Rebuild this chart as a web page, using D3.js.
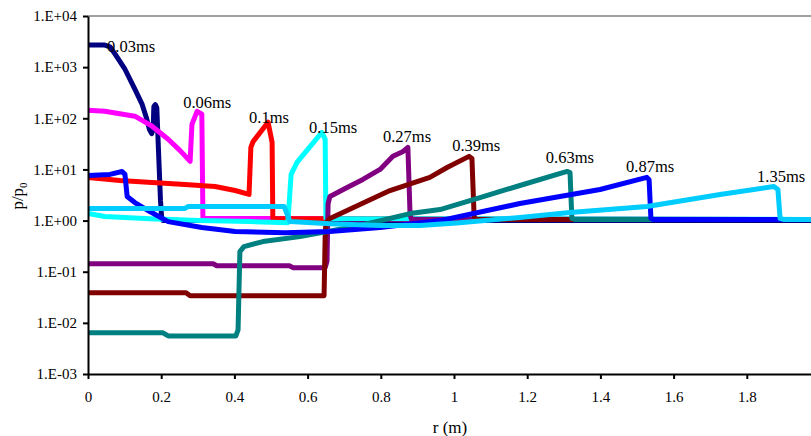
<!DOCTYPE html>
<html>
<head>
<meta charset="utf-8">
<script src="https://cdn.jsdelivr.net/npm/d3@7"></script>
<style>
  body { margin: 0; background: #fff; }
  svg { display: block; }
</style>
</head>
<body>
<svg id="chart" width="811" height="436"></svg>
<script>
// pressure ratio p/p0 against radius r (m), one profile per time
const s003 = [[0,2700],[0.046,2700],[0.06,2500],[0.074,1800],[0.101,910],[0.128,370],[0.148,187],[0.160,100],[0.168,60],[0.174,50],[0.178,60],[0.180,170],[0.184,185],[0.188,160],[0.193,20],[0.198,2.5],[0.201,1.2],[0.205,1.0],[2,1.0]]
const s006 = [[0,144],[0.046,137],[0.128,110],[0.175,70],[0.219,39],[0.251,23.6],[0.279,14.4],[0.284,76],[0.298,137],[0.311,120],[0.314,1.1],[2,1.05]]
const s01  = [[0,6.97],[0.087,6.08],[0.175,5.56],[0.265,5.08],[0.347,4.65],[0.402,3.87],[0.44,3.24],[0.445,27],[0.451,35],[0.492,84],[0.503,34],[0.505,1.1],[2,1.05]]
const s015 = [[0,1.37],[0.046,1.2],[0.169,1.09],[0.306,1.0],[0.443,0.955],[0.546,0.91],[0.555,8.0],[0.571,13.7],[0.639,53],[0.648,38.7],[0.650,1.1],[2,1.05]]
const s027 = [[0,0.1435],[0.342,0.1435],[0.352,0.131],[0.55,0.131],[0.56,0.12],[0.648,0.12],[0.653,0.16],[0.656,2.15],[0.661,2.96],[0.708,4.44],[0.751,6.37],[0.798,10],[0.833,18],[0.861,22.5],[0.874,27],[0.880,1.3],[0.884,1.05],[2,1.05]]
const s039 = [[0,0.0387],[0.268,0.0387],[0.279,0.0338],[0.645,0.0338],[0.648,0.5],[0.650,0.91],[0.661,1.1],[0.743,2.06],[0.825,3.87],[0.934,7.0],[0.981,10.9],[1.041,18],[1.049,16.4],[1.055,1.2],[1.06,1.05],[2,1.05]]
const s063 = [[0,0.00637],[0.205,0.00637],[0.219,0.00556],[0.404,0.00556],[0.41,0.0073],[0.415,0.247],[0.426,0.31],[0.478,0.388],[0.579,0.485],[0.743,0.8],[0.88,1.37],[0.962,1.64],[1.071,2.82],[1.18,4.85],[1.309,9.15],[1.317,8.7],[1.322,1.1],[1.33,1.05],[2,1.05]]
const s087 = [[0,7.6],[0.06,8.0],[0.093,9.1],[0.101,8.0],[0.107,2.96],[0.128,2.25],[0.169,1.5],[0.219,0.955],[0.311,0.73],[0.402,0.61],[0.538,0.58],[0.661,0.61],[0.798,0.73],[0.962,1.0],[1.18,2.15],[1.399,4.05],[1.527,7.0],[1.533,6.3],[1.538,1.1],[1.545,1.05],[2,1.05]]
const s135 = [[0,1.72],[0.265,1.72],[0.273,1.88],[0.536,1.88],[0.552,0.955],[0.661,0.87],[0.798,0.8],[0.907,0.8],[1.016,0.91],[1.18,1.15],[1.317,1.44],[1.527,1.88],[1.727,3.24],[1.874,4.64],[1.885,4.05],[1.891,1.1],[1.90,1.05],[2,1.05]]

const times = ['0.03ms','0.06ms','0.1ms','0.15ms','0.27ms','0.39ms','0.63ms','0.87ms','1.35ms']
// where each time label sits, in data units [r, p]
const labelAt = [[0.052,1980],[0.26,159],[0.44,81],[0.604,51.5],[0.806,34.4],[0.995,22.9],[1.251,13.4],[1.47,8.9],[1.828,5.7]]
const xTicks = [0,0.2,0.4,0.6,0.8,1,1.2,1.4,1.6,1.8]
const yTicks = [1e-3,1e-2,1e-1,1,10,100,1000,10000]

const series = [s003, s006, s01, s015, s027, s039, s063, s087, s135]
const colors = ['#000080','#FF00FF','#FF0000','#00FFFF','#800080','#800000','#008080','#0000FF','#00CCFF']

const FONT = 'Liberation Serif'
const svg = d3.select('#chart')
const x = d3.scaleLinear().domain([0, 2]).range([88, 820])
const y = d3.scaleLog().domain([1e-3, 1e4]).range([374, 16])

// excel style exponent labels, 1.E+04 etc
const fmtExp = v => {
  const e = Math.round(Math.log10(v))
  return '1.E' + (e < 0 ? '-' : '+') + String(Math.abs(e)).padStart(2, '0')
}

// top frame line
svg.append('line')
  .attr('x1', x(0)).attr('x2', 811)
  .attr('y1', y(1e4)).attr('y2', y(1e4))
  .attr('stroke', '#808080').attr('stroke-width', 1.5)

const lineGen = d3.line().x(d => x(d[0])).y(d => y(d[1]))

svg.append('clipPath').attr('id', 'plotClip')
  .append('rect').attr('x', x(0)).attr('y', y(1e4)).attr('width', 811 - x(0)).attr('height', y(1e-3) - y(1e4))

const plot = svg.append('g').attr('clip-path', 'url(#plotClip)')
series.forEach((s, i) => {
  plot.append('path')
    .datum(s)
    .attr('d', lineGen)
    .attr('fill', 'none')
    .attr('stroke', colors[i])
    .attr('stroke-width', 5)
    .attr('stroke-linejoin', 'round')
    .attr('stroke-linecap', 'round')
})

// axes
const yAxis = svg.append('g')
  .attr('transform', `translate(${x(0)},0)`)
  .call(d3.axisLeft(y).tickValues(yTicks).tickFormat(fmtExp).tickSize(5).tickSizeOuter(0).tickPadding(6))
const xAxis = svg.append('g')
  .attr('transform', `translate(0,${y(1e-3)})`)
  .call(d3.axisBottom(x).tickValues(xTicks).tickFormat(d3.format('')).tickSize(5).tickSizeOuter(0).tickPadding(12))

for (const ax of [xAxis, yAxis]) {
  ax.attr('font-family', null)
  ax.select('.domain').attr('stroke', '#000').attr('stroke-width', 2)
  ax.selectAll('.tick line').attr('stroke', '#000').attr('stroke-width', 2)
  ax.selectAll('.tick text').attr('fill', '#000')
    .style('font-family', FONT).style('font-size', '15px')
}

// time labels
svg.append('g').selectAll('text')
  .data(times)
  .join('text')
  .attr('x', (d, i) => x(labelAt[i][0]))
  .attr('y', (d, i) => y(labelAt[i][1]))
  .style('font-family', FONT)
  .style('font-size', '16.5px')
  .attr('fill', '#000')
  .text(d => d)

// axis titles
svg.append('text')
  .attr('x', 450).attr('y', 433)
  .attr('text-anchor', 'middle')
  .style('font-family', FONT)
  .style('font-size', '17px')
  .text('r (m)')

const yTitle = svg.append('text')
  .attr('transform', 'translate(23,196) rotate(-90)')
  .attr('text-anchor', 'middle')
  .style('font-family', FONT)
  .style('font-size', '17px')
yTitle.append('tspan').text('p/p')
yTitle.append('tspan').style('font-size', '11px').attr('dy', 4).text('0')
</script>
</body>
</html>
